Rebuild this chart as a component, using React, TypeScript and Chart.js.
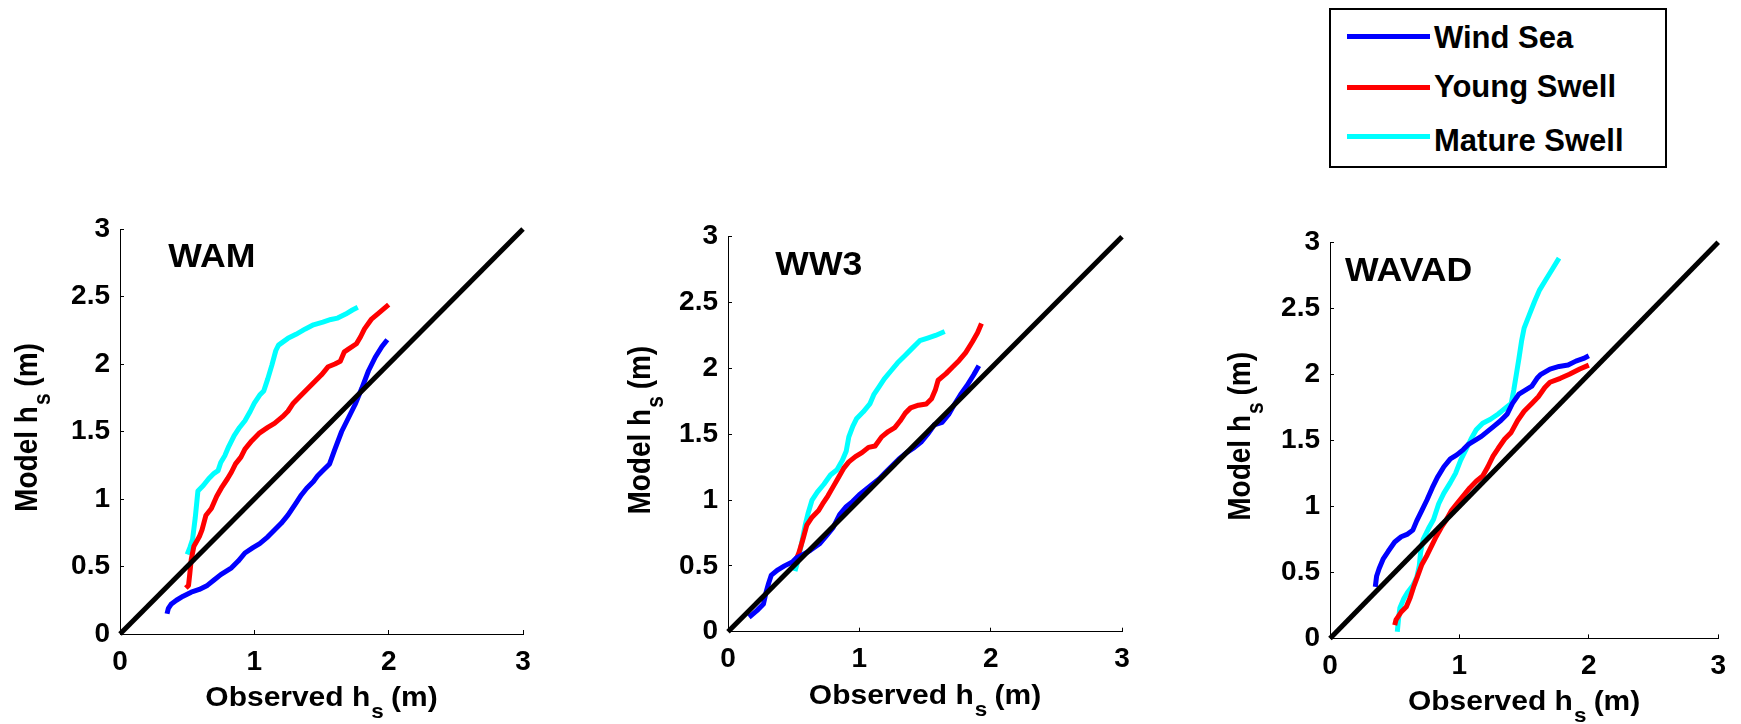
import React, { useEffect, useRef } from "react";
import { Chart, registerables } from "chart.js";

Chart.register(...registerables);

// ---------- data ----------
const xTicks = [0, 1, 2, 3];
const yTicks = [0, 0.5, 1, 1.5, 2, 2.5, 3];
const seriesNames = ["Wind Sea", "Young Swell", "Mature Swell"];
const seriesColors = ["#0000FF", "#FF0000", "#00FFFF"];
const panelTitles = ["WAM", "WW3", "WAVAD"];
const xAxisTitle = ["Observed h", "s", " (m)"];
const yAxisTitle = ["Model h", "s", " (m)"];
const oneToOne = [[0, 0], [3, 3]];

const wamWindSea = [[0.35,0.15],[0.36,0.19],[0.38,0.22],[0.42,0.25],[0.47,0.28],[0.53,0.31],[0.59,0.33],[0.65,0.36],[0.70,0.40],[0.75,0.44],[0.83,0.49],[0.88,0.54],[0.93,0.60],[0.99,0.64],[1.04,0.67],[1.10,0.72],[1.15,0.77],[1.20,0.82],[1.25,0.88],[1.31,0.97],[1.35,1.03],[1.39,1.08],[1.44,1.13],[1.47,1.17],[1.52,1.22],[1.56,1.26],[1.60,1.37],[1.65,1.50],[1.70,1.60],[1.75,1.70],[1.80,1.82],[1.85,1.95],[1.90,2.05],[1.95,2.13],[1.99,2.18]];
const wamYoungSwell = [[0.49,0.34],[0.51,0.36],[0.52,0.45],[0.53,0.55],[0.55,0.65],[0.59,0.72],[0.61,0.77],[0.64,0.88],[0.68,0.93],[0.72,1.02],[0.76,1.09],[0.80,1.15],[0.83,1.20],[0.86,1.26],[0.90,1.31],[0.93,1.37],[0.98,1.43],[1.04,1.49],[1.10,1.53],[1.15,1.56],[1.21,1.61],[1.25,1.65],[1.29,1.71],[1.35,1.77],[1.40,1.82],[1.45,1.87],[1.50,1.92],[1.55,1.98],[1.60,2.00],[1.64,2.02],[1.67,2.09],[1.70,2.11],[1.76,2.15],[1.79,2.20],[1.82,2.26],[1.87,2.33],[1.93,2.38],[2.00,2.44]];
const wamMatureSwell = [[0.50,0.59],[0.52,0.64],[0.54,0.70],[0.55,0.78],[0.56,0.86],[0.57,0.96],[0.58,1.06],[0.62,1.10],[0.66,1.15],[0.70,1.19],[0.73,1.21],[0.75,1.27],[0.78,1.32],[0.81,1.39],[0.85,1.47],[0.89,1.53],[0.93,1.58],[0.97,1.65],[1.00,1.71],[1.04,1.77],[1.07,1.80],[1.10,1.89],[1.13,1.99],[1.16,2.10],[1.18,2.14],[1.25,2.19],[1.31,2.22],[1.38,2.26],[1.44,2.29],[1.51,2.31],[1.57,2.33],[1.62,2.34],[1.68,2.37],[1.73,2.40],[1.77,2.42]];

const ww3WindSea = [[0.16,0.11],[0.22,0.16],[0.27,0.21],[0.29,0.30],[0.31,0.37],[0.33,0.43],[0.38,0.47],[0.43,0.50],[0.49,0.53],[0.52,0.56],[0.58,0.59],[0.63,0.62],[0.70,0.67],[0.75,0.73],[0.80,0.79],[0.85,0.89],[0.90,0.95],[0.95,0.99],[1.00,1.04],[1.05,1.08],[1.10,1.12],[1.15,1.16],[1.20,1.21],[1.25,1.26],[1.30,1.31],[1.36,1.36],[1.42,1.40],[1.47,1.44],[1.52,1.50],[1.57,1.57],[1.63,1.59],[1.68,1.65],[1.72,1.72],[1.77,1.80],[1.82,1.87],[1.87,1.95],[1.91,2.02]];
const ww3YoungSwell = [[0.52,0.55],[0.54,0.60],[0.57,0.70],[0.60,0.81],[0.64,0.87],[0.69,0.92],[0.72,0.97],[0.76,1.03],[0.80,1.10],[0.84,1.17],[0.88,1.24],[0.92,1.29],[0.97,1.33],[1.02,1.36],[1.07,1.40],[1.12,1.41],[1.17,1.48],[1.22,1.52],[1.27,1.55],[1.31,1.60],[1.35,1.66],[1.39,1.70],[1.45,1.72],[1.51,1.73],[1.55,1.77],[1.58,1.84],[1.60,1.91],[1.66,1.96],[1.71,2.01],[1.76,2.06],[1.81,2.12],[1.86,2.20],[1.90,2.27],[1.93,2.34]];
const ww3MatureSwell = [[0.51,0.46],[0.53,0.53],[0.55,0.62],[0.57,0.72],[0.59,0.82],[0.61,0.90],[0.64,1.00],[0.68,1.06],[0.73,1.12],[0.78,1.19],[0.83,1.23],[0.87,1.30],[0.90,1.37],[0.92,1.48],[0.95,1.56],[0.98,1.62],[1.03,1.67],[1.08,1.73],[1.11,1.80],[1.15,1.86],[1.19,1.92],[1.24,1.98],[1.29,2.04],[1.35,2.10],[1.40,2.15],[1.46,2.21],[1.52,2.23],[1.58,2.25],[1.65,2.28]];

const wavadWindSea = [[0.35,0.39],[0.36,0.47],[0.38,0.53],[0.41,0.60],[0.45,0.66],[0.50,0.73],[0.55,0.77],[0.60,0.79],[0.64,0.82],[0.67,0.89],[0.71,0.97],[0.75,1.05],[0.79,1.14],[0.83,1.22],[0.88,1.30],[0.93,1.36],[0.98,1.39],[1.03,1.43],[1.07,1.47],[1.12,1.50],[1.17,1.53],[1.22,1.57],[1.27,1.61],[1.32,1.65],[1.37,1.70],[1.41,1.78],[1.46,1.85],[1.51,1.88],[1.56,1.91],[1.60,1.97],[1.63,2.00],[1.70,2.04],[1.77,2.06],[1.84,2.07],[1.90,2.10],[1.96,2.12],[2.00,2.14]];
const wavadYoungSwell = [[0.50,0.10],[0.51,0.14],[0.55,0.20],[0.59,0.24],[0.62,0.31],[0.65,0.40],[0.68,0.48],[0.71,0.56],[0.75,0.63],[0.79,0.71],[0.82,0.77],[0.86,0.84],[0.90,0.90],[0.94,0.97],[0.98,1.02],[1.03,1.08],[1.08,1.14],[1.13,1.19],[1.18,1.23],[1.22,1.30],[1.26,1.38],[1.30,1.44],[1.35,1.51],[1.40,1.56],[1.45,1.65],[1.50,1.72],[1.56,1.78],[1.61,1.83],[1.66,1.90],[1.70,1.94],[1.78,1.97],[1.85,2.00],[1.93,2.04],[2.00,2.07]];
const wavadMatureSwell = [[0.52,0.05],[0.53,0.15],[0.54,0.23],[0.57,0.30],[0.60,0.35],[0.64,0.40],[0.67,0.46],[0.69,0.55],[0.70,0.65],[0.72,0.75],[0.76,0.83],[0.80,0.90],[0.84,1.02],[0.88,1.10],[0.93,1.18],[0.97,1.25],[1.01,1.35],[1.05,1.43],[1.09,1.51],[1.13,1.58],[1.18,1.63],[1.24,1.66],[1.30,1.70],[1.35,1.74],[1.40,1.78],[1.42,1.88],[1.44,2.00],[1.46,2.12],[1.48,2.25],[1.50,2.35],[1.54,2.45],[1.58,2.55],[1.62,2.64],[1.67,2.72],[1.72,2.80],[1.77,2.88]];

const panelSeries = [
  [wamWindSea, wamYoungSwell, wamMatureSwell],
  [ww3WindSea, ww3YoungSwell, ww3MatureSwell],
  [wavadWindSea, wavadYoungSwell, wavadMatureSwell],
];
const panelTitleAt = [[0.36, 2.72], [0.36, 2.71], [0.115, 2.71]];

// ---------- layout ----------
const PAGE_W = 1741;
const PAGE_H = 724;
const FONT = "'Liberation Sans', Arial, Helvetica, sans-serif";
const panelLayout = [
  { left: 0, width: 600, yTitleGap: 83, area: { left: 120, right: 523, top: 229, bottom: 634 } },
  { left: 600, width: 600, yTitleGap: 78, area: { left: 128, right: 522, top: 236.7, bottom: 631.7 } },
  { left: 1200, width: 541, yTitleGap: 80, area: { left: 130, right: 526, top: 242.3, bottom: 638.4 } },
];

function toXY(pts: number[][]) {
  return pts.map((p) => ({ x: p[0], y: p[1] }));
}

function drawSubLabel(
  ctx: CanvasRenderingContext2D,
  parts: string[],
  x: number,
  y: number,
  vertical: boolean
) {
  const MAIN = `bold 28px ${FONT}`;
  const SUB = `bold 21px ${FONT}`;
  ctx.save();
  ctx.translate(x, y);
  ctx.scale(vertical ? 1.1 : 1.07, 1);
  if (vertical) ctx.rotate(-Math.PI / 2);
  ctx.fillStyle = "#000";
  ctx.textAlign = "left";
  ctx.textBaseline = "alphabetic";
  ctx.font = MAIN;
  const w1 = ctx.measureText(parts[0]).width;
  const w3 = ctx.measureText(parts[2]).width;
  ctx.font = SUB;
  const w2 = ctx.measureText(parts[1]).width;
  const s = -(w1 + w2 + w3) / 2;
  ctx.font = MAIN;
  ctx.fillText(parts[0], s, 0);
  ctx.font = SUB;
  ctx.fillText(parts[1], s + w1 + 1, 12);
  ctx.font = MAIN;
  ctx.fillText(parts[2], s + w1 + w2, 0);
  ctx.restore();
}

function makeConfig(i: number): any {
  const lay = panelLayout[i];
  const a = lay.area;
  const tickFont = { family: FONT, size: 28, weight: "bold" as const };

  const labelPlugin = {
    id: "panelLabels" + i,
    afterDraw(chart: any) {
      const { ctx, chartArea, scales } = chart;
      ctx.save();
      ctx.fillStyle = "#000";
      ctx.font = `bold 33px ${FONT}`;
      ctx.textAlign = "left";
      ctx.textBaseline = "alphabetic";
      ctx.translate(
        scales.x.getPixelForValue(panelTitleAt[i][0]),
        scales.y.getPixelForValue(panelTitleAt[i][1])
      );
      ctx.scale(1.08, 1);
      ctx.fillText(panelTitles[i], 0, 0);
      ctx.restore();
      drawSubLabel(ctx, xAxisTitle, (chartArea.left + chartArea.right) / 2, chartArea.bottom + 72, false);
      drawSubLabel(ctx, yAxisTitle, chartArea.left - lay.yTitleGap, (chartArea.top + chartArea.bottom) / 2 - 4, true);
    },
  };

  const common = {
    showLine: true,
    pointRadius: 0,
    pointHoverRadius: 0,
    fill: false,
    clip: false,
    tension: 0,
    borderWidth: 5,
    borderJoinStyle: "round",
  };

  const datasets = [
    { ...common, label: "1:1", data: toXY(oneToOne), borderColor: "#000000", backgroundColor: "#000000" },
    ...panelSeries[i].map((s, k) => ({
      ...common,
      label: seriesNames[k],
      data: toXY(s),
      borderColor: seriesColors[k],
      backgroundColor: seriesColors[k],
    })),
  ];

  return {
    type: "scatter",
    data: { datasets },
    options: {
      animation: false,
      responsive: false,
      maintainAspectRatio: false,
      events: [],
      layout: { padding: { left: 0, top: a.top, right: lay.width - a.right, bottom: 0 } },
      plugins: { legend: { display: false }, tooltip: { enabled: false }, title: { display: false } },
      scales: {
        x: {
          type: "linear",
          position: "bottom",
          min: 0,
          max: 3,
          afterBuildTicks: (scale: any) => {
            scale.ticks = xTicks.map((v) => ({ value: v }));
          },
          afterFit: (scale: any) => {
            scale.height = PAGE_H - a.bottom;
          },
          ticks: {
            font: tickFont,
            color: "#000",
            padding: 15,
            maxRotation: 0,
            autoSkip: false,
            callback: (v: any) => String(v),
          },
          grid: { drawOnChartArea: false, drawTicks: true, tickLength: -4, color: "#000", lineWidth: 1 },
          border: { display: true, color: "#000", width: 1 },
        },
        y: {
          type: "linear",
          position: "left",
          min: 0,
          max: 3,
          afterBuildTicks: (scale: any) => {
            scale.ticks = yTicks.map((v) => ({ value: v }));
          },
          afterFit: (scale: any) => {
            scale.width = a.left;
          },
          ticks: {
            font: tickFont,
            color: "#000",
            padding: 14,
            autoSkip: false,
            callback: (v: any) => String(v),
          },
          grid: { drawOnChartArea: false, drawTicks: true, tickLength: -4, color: "#000", lineWidth: 1 },
          border: { display: true, color: "#000", width: 1 },
        },
      },
    },
    plugins: [labelPlugin],
  };
}

function Panel({ index }: { index: number }) {
  const ref = useRef<HTMLCanvasElement | null>(null);
  const lay = panelLayout[index];
  useEffect(() => {
    if (!ref.current) return;
    const chart = new Chart(ref.current, makeConfig(index));
    return () => chart.destroy();
  }, [index]);
  return (
    <canvas
      ref={ref}
      width={lay.width}
      height={PAGE_H}
      style={{ position: "absolute", left: lay.left, top: 0, width: lay.width, height: PAGE_H }}
    />
  );
}

const legendLineTops = [23.5, 75.2, 123.5];
const legendTextTops = [12, 60.5, 114.5];

function Legend() {
  return (
    <div
      style={{
        position: "absolute",
        left: 1329,
        top: 8,
        width: 338,
        height: 160,
        border: "2px solid #000",
        boxSizing: "border-box",
        background: "#fff",
        zIndex: 2,
      }}
    >
      {seriesNames.map((name, k) => (
        <React.Fragment key={name}>
          <div
            style={{
              position: "absolute",
              left: 16,
              top: legendLineTops[k],
              width: 83,
              height: 5,
              background: seriesColors[k],
            }}
          />
          <div
            style={{
              position: "absolute",
              left: 103,
              top: legendTextTops[k],
              fontFamily: FONT,
              fontWeight: "bold",
              fontSize: 31,
              lineHeight: "31px",
              color: "#000",
              whiteSpace: "nowrap",
            }}
          >
            {name}
          </div>
        </React.Fragment>
      ))}
    </div>
  );
}

export default function App() {
  return (
    <div
      style={{
        position: "absolute",
        left: 0,
        top: 0,
        width: PAGE_W,
        height: PAGE_H,
        background: "#fff",
        overflow: "hidden",
      }}
    >
      {[0, 1, 2].map((i) => (
        <Panel key={i} index={i} />
      ))}
      <Legend />
    </div>
  );
}
